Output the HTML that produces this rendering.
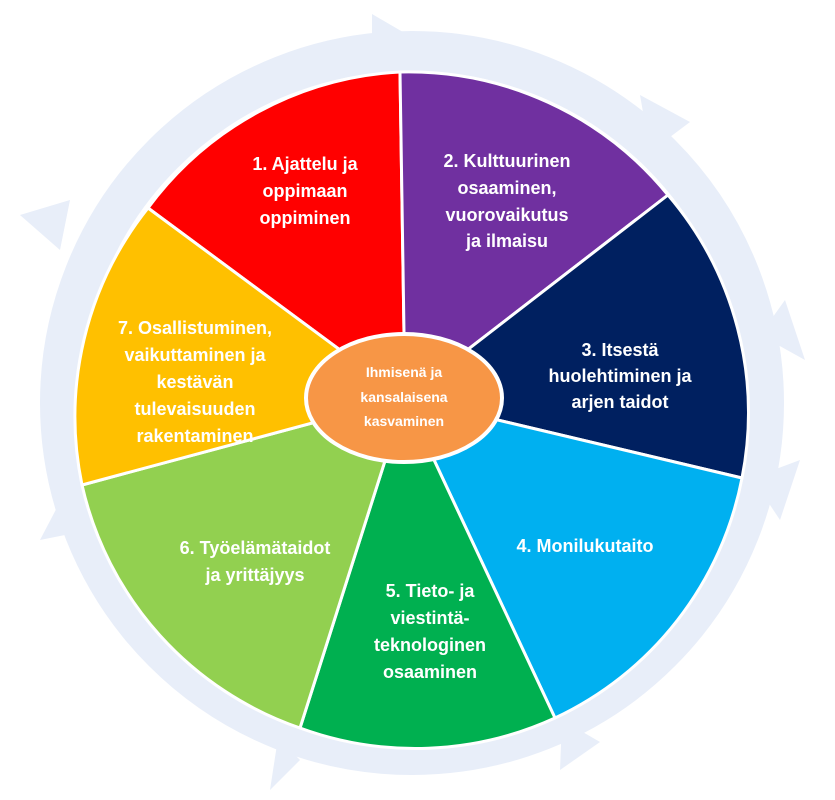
<!DOCTYPE html>
<html><head><meta charset="utf-8"><style>
html,body{margin:0;padding:0;background:#fff;}
svg{display:block;}
text{font-family:"Liberation Sans",Arial,sans-serif;font-weight:bold;fill:#fff;text-anchor:middle;}
</style></head><body>
<svg width="835" height="800" viewBox="0 0 835 800" xmlns="http://www.w3.org/2000/svg">
<!-- outer ring -->
<circle cx="412" cy="403" r="352" fill="none" stroke="#e8eef9" stroke-width="40"/>
<g fill="#e8eef9">
<polygon points="372,14 420,42 372,70"/>
<polygon points="640,95 690,122 650,152"/>
<polygon points="785,300 805,360 760,335"/>
<polygon points="800,460 780,520 752,478"/>
<polygon points="600,742 560,770 562,720"/>
<polygon points="300,760 270,790 278,738"/>
<polygon points="62,498 100,528 40,540"/>
<polygon points="20,215 70,200 60,250"/>
</g>
<g stroke="#fff" stroke-width="3" stroke-linejoin="round">
<path d="M405,398 L148,208 A335,335 0 0,1 400,72 Z" fill="#ff0000"/>
<path d="M405,398 L400,72 A335,335 0 0,1 668,195 Z" fill="#7030a0"/>
<path d="M405,398 L668,195 A335,335 0 0,1 742,478 Z" fill="#002060"/>
<path d="M405,398 L742,478 A335,335 0 0,1 555,718 Z" fill="#00b0f0"/>
<path d="M405,398 L555,718 A335,335 0 0,1 300,728 Z" fill="#00b050"/>
<path d="M405,398 L300,728 A335,335 0 0,1 82,485 Z" fill="#92d050"/>
<path d="M405,398 L82,485 A335,335 0 0,1 148,208 Z" fill="#ffc000"/>
</g>
<ellipse cx="404" cy="398" rx="98" ry="64" fill="#f79646" stroke="#fff" stroke-width="4"/>
<g font-size="14">
<text x="404" y="377">Ihmisenä ja</text>
<text x="404" y="402">kansalaisena</text>
<text x="404" y="426">kasvaminen</text>
</g>
<g font-size="18">
<text x="305" y="170">1. Ajattelu ja</text>
<text x="305" y="197">oppimaan</text>
<text x="305" y="224">oppiminen</text>
<text x="507" y="167">2. Kulttuurinen</text>
<text x="507" y="194">osaaminen,</text>
<text x="507" y="221">vuorovaikutus</text>
<text x="507" y="247">ja ilmaisu</text>
<text x="620" y="356">3. Itsestä</text>
<text x="620" y="382">huolehtiminen ja</text>
<text x="620" y="408">arjen taidot</text>
<text x="585" y="552">4. Monilukutaito</text>
<text x="430" y="597">5. Tieto- ja</text>
<text x="430" y="624">viestintä-</text>
<text x="430" y="651">teknologinen</text>
<text x="430" y="678">osaaminen</text>
<text x="255" y="554">6. Työelämätaidot</text>
<text x="255" y="581">ja yrittäjyys</text>
<text x="195" y="334">7. Osallistuminen,</text>
<text x="195" y="361">vaikuttaminen ja</text>
<text x="195" y="388">kestävän</text>
<text x="195" y="415">tulevaisuuden</text>
<text x="195" y="442">rakentaminen</text>
</g>
</svg>
</body></html>
